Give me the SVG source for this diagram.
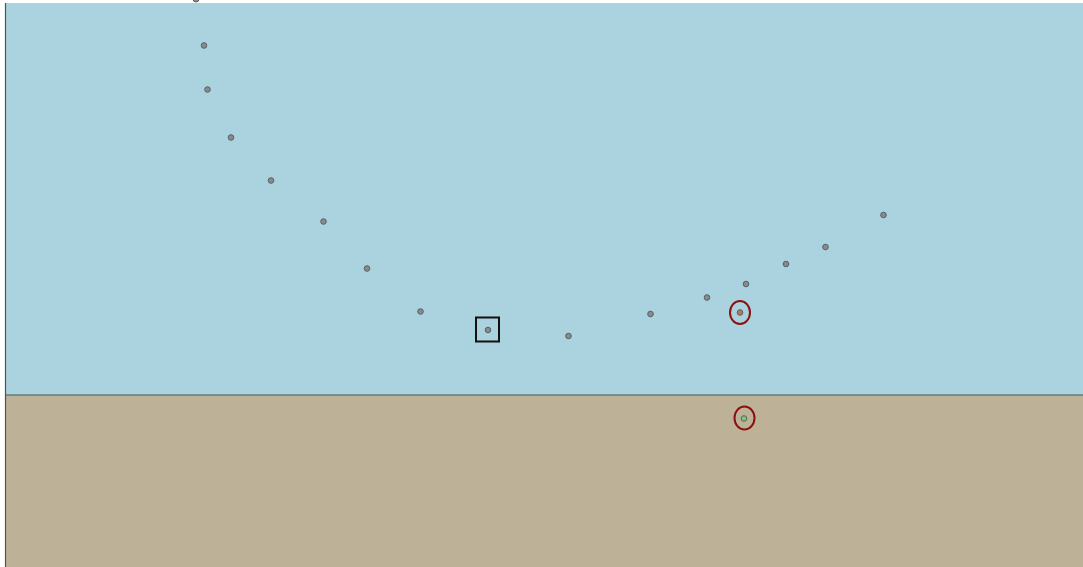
<svg xmlns="http://www.w3.org/2000/svg" width="1083" height="567" viewBox="0 0 1083 567">
<style>
.pt{fill:#868b8e;stroke:#5a5f62;stroke-width:1}
.hl{fill:none;stroke:#8b1010;stroke-width:2}
</style>
<rect x="0" y="0" width="1083" height="567" fill="#ffffff"/>
<g id="water"><rect x="5" y="3" width="1078" height="392" fill="#aad3df"/></g>
<g id="ground"><rect x="5" y="395" width="1078" height="172" fill="#bdb297"/></g>
<line x1="5" y1="395" x2="1083" y2="395" stroke="#4a5555" stroke-width="1.2"/>
<line x1="5.5" y1="3" x2="5.5" y2="567" stroke="#4a5555" stroke-width="1.2"/>
<g id="points">
<circle class="pt" cx="196" cy="-1" r="3"/>
<circle class="pt" cx="204" cy="45.5" r="2.8"/>
<circle class="pt" cx="207.5" cy="89.5" r="2.8"/>
<circle class="pt" cx="231" cy="137.5" r="2.8"/>
<circle class="pt" cx="271" cy="180.5" r="2.8"/>
<circle class="pt" cx="323.5" cy="221.5" r="2.8"/>
<circle class="pt" cx="367" cy="268.5" r="2.8"/>
<circle class="pt" cx="420.5" cy="311.5" r="2.8"/>
<circle class="pt" cx="488" cy="330" r="2.8"/>
<circle class="pt" cx="568.5" cy="336" r="2.8"/>
<circle class="pt" cx="650.5" cy="314" r="2.8"/>
<circle class="pt" cx="707" cy="297.5" r="2.8"/>
<circle class="pt" cx="746" cy="284" r="2.8"/>
<circle class="pt" cx="786" cy="264" r="2.8"/>
<circle class="pt" cx="825.5" cy="247" r="2.8"/>
<circle class="pt" cx="883.5" cy="215" r="2.8"/>
<circle cx="740" cy="312.5" r="2.8" fill="#b5775a" stroke="#5a5f62" stroke-width="1"/>
<circle cx="744" cy="418.5" r="2.8" fill="#7fc76f" stroke="#5a5f62" stroke-width="1"/>
</g>
<g id="markers">
<rect x="476" y="317.5" width="23" height="24" fill="none" stroke="#111" stroke-width="2"/>
<ellipse class="hl" cx="740" cy="312.5" rx="10" ry="11.5"/>
<ellipse class="hl" cx="744.5" cy="418" rx="10" ry="11.5"/>
</g>
</svg>
